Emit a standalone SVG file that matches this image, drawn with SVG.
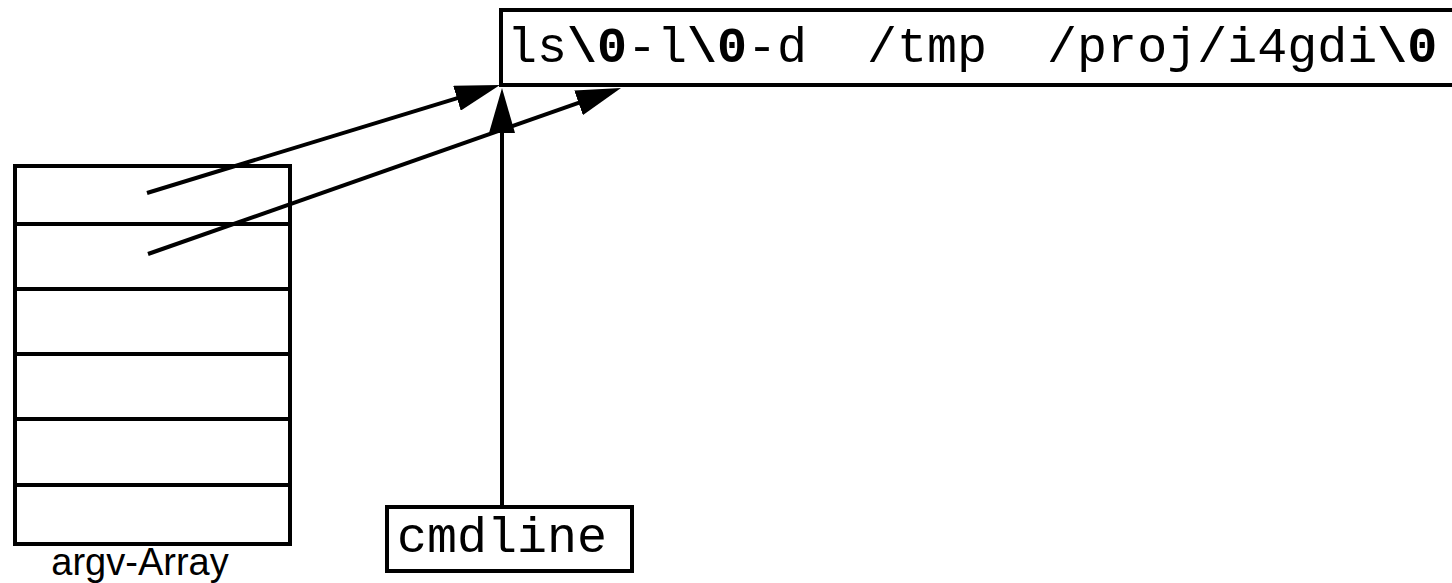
<svg xmlns="http://www.w3.org/2000/svg" width="1452" height="583" viewBox="0 0 1452 583">
<style>
.box{fill:#fff;stroke:#000;stroke-width:4}
.div{stroke:#000;stroke-width:4}
.mono{font-family:"Liberation Mono","Courier New",monospace;font-size:50px;fill:#000;white-space:pre}
.b{font-weight:bold}
.lbl{font-family:"Liberation Sans",Arial,sans-serif;font-size:38px;fill:#000}
.conn{stroke:#000;stroke-width:4;fill:none;marker-end:url(#ah)}
</style>
<defs>
<marker id="ah" viewBox="0 0 45 26" refX="15" refY="13" markerWidth="45" markerHeight="26" markerUnits="userSpaceOnUse" orient="auto">
<path d="M0,0 L45,13 L0,26 Z" fill="#000"/>
</marker>
</defs>
<g id="string">
<rect class="box" x="501" y="10" width="980" height="75"/>
<text class="mono" x="507" y="62" xml:space="preserve">ls<tspan class="b">\0</tspan>-l<tspan class="b">\0</tspan>-d  /tmp  /proj/i4gdi<tspan class="b">\0</tspan></text>
</g>
<g id="argv">
<rect class="box" x="15" y="166" width="275" height="378"/>
<line class="div" x1="15" y1="224" x2="290" y2="224"/>
<line class="div" x1="15" y1="289" x2="290" y2="289"/>
<line class="div" x1="15" y1="354" x2="290" y2="354"/>
<line class="div" x1="15" y1="419" x2="290" y2="419"/>
<line class="div" x1="15" y1="485" x2="290" y2="485"/>
<text class="lbl" x="140" y="575" text-anchor="middle">argv-Array</text>
</g>
<g id="cmdline">
<rect class="box" x="387" y="507" width="245" height="64"/>
<text class="mono" x="397" y="552">cmdline</text>
</g>
<g id="connectors">
<line class="conn" x1="147" y1="193" x2="471.3" y2="93.8"/>
<line class="conn" x1="148" y1="254" x2="592.7" y2="97.9"/>
<line class="conn" x1="502" y1="507" x2="502" y2="118"/>
</g>
</svg>
